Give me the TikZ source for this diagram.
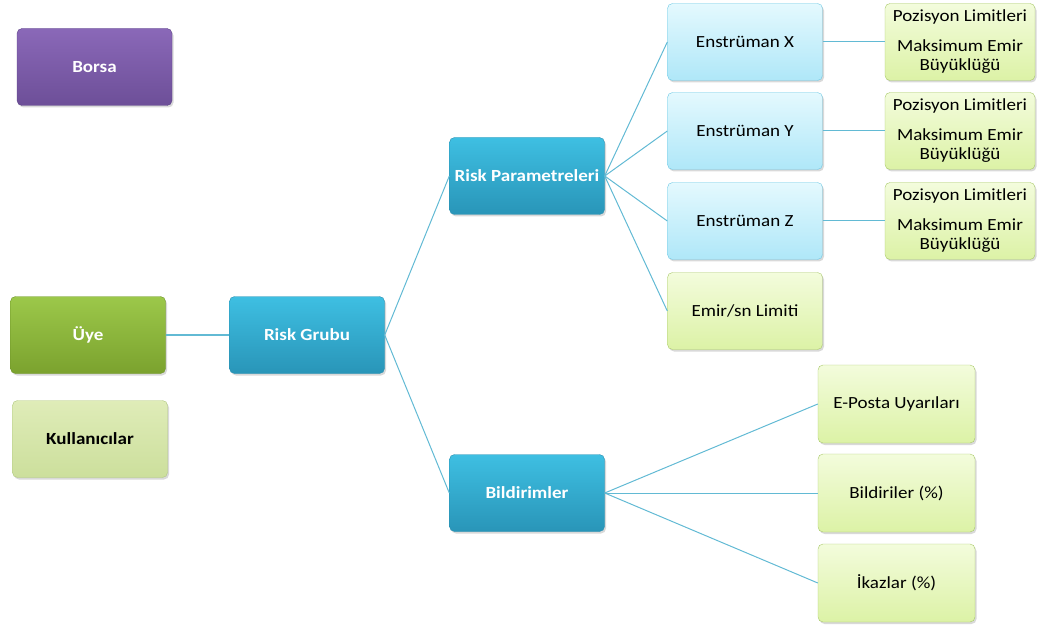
\documentclass[tikz,border=0pt]{standalone}
\usepackage{fontspec}
\setmainfont{Carlito}[FakeStretch=1.12]
\usetikzlibrary{shadows}
\definecolor{conn}{HTML}{62BAD4}
\definecolor{rtop}{HTML}{3EBFE2}
\definecolor{rbot}{HTML}{2995B8}
\definecolor{rdraw}{HTML}{2A8FB0}
\definecolor{itop}{HTML}{E4F9FE}
\definecolor{ibot}{HTML}{AFE7F8}
\definecolor{idraw}{HTML}{6CC8E4}
\definecolor{ltop}{HTML}{F3FCDC}
\definecolor{lbot}{HTML}{DCF2A6}
\definecolor{ldraw}{HTML}{A9C96A}
\definecolor{uyetop}{HTML}{9CC84A}
\definecolor{uyebot}{HTML}{7BA22E}
\definecolor{uyedraw}{HTML}{6E9428}
\definecolor{kultop}{HTML}{DFECB8}
\definecolor{kulbot}{HTML}{CCDF9C}
\definecolor{kuldraw}{HTML}{B0C880}
\definecolor{borsatop}{HTML}{8A68B8}
\definecolor{borsabot}{HTML}{6D4F98}
\definecolor{borsadraw}{HTML}{5E4488}
\tikzset{
  box/.style={rounded corners=5pt, minimum width=155pt, minimum height=77pt, align=center, inner sep=2pt,
    font=\fontsize{17}{19}\selectfont,
    drop shadow={opacity=0.3, shadow xshift=1.5pt, shadow yshift=-2pt}},
  boldbox/.style={box, font=\fontsize{17}{19}\selectfont\bfseries},
  riskbox/.style={boldbox, top color=rtop, bottom color=rbot, draw=rdraw, text=white},
  instbox/.style={box, top color=itop, bottom color=ibot, draw=idraw, text=black},
  leafbox/.style={box, top color=ltop, bottom color=lbot, draw=ldraw, text=black},
  conline/.style={draw=conn, line width=1pt},
}
\begin{document}
\begin{tikzpicture}[x=1pt,y=-1pt]
\useasboundingbox (0,0) rectangle (1038,628);
% left column
\node[boldbox, top color=borsatop, bottom color=borsabot, draw=borsadraw, text=white] (borsa) at (94.5,67) {Borsa};
\node[boldbox, top color=uyetop, bottom color=uyebot, draw=uyedraw, text=white] (uye) at (88,335) {Üye};
\node[boldbox, top color=kultop, bottom color=kulbot, draw=kuldraw, text=black] (kul) at (90,439) {Kullanıcılar};
% risk
\node[riskbox] (rg) at (307,335) {Risk Grubu};
\node[riskbox] (rp) at (527,176) {Risk Parametreleri};
\node[riskbox] (bil) at (527,493) {Bildirimler};
% instruments
\node[instbox] (ex) at (745,42) {Enstrüman X};
\node[instbox] (ey) at (745,131) {Enstrüman Y};
\node[instbox] (ez) at (745,221) {Enstrüman Z};
\node[leafbox] (emir) at (745,311) {Emir/sn Limiti};
% limits
\node[leafbox, minimum width=150pt] (px) at (960,42) {Pozisyon Limitleri\\[11pt]Maksimum Emir\\Büyüklüğü};
\node[leafbox, minimum width=150pt] (py) at (960,131) {Pozisyon Limitleri\\[11pt]Maksimum Emir\\Büyüklüğü};
\node[leafbox, minimum width=150pt] (pz) at (960,221) {Pozisyon Limitleri\\[11pt]Maksimum Emir\\Büyüklüğü};
% notifications
\node[leafbox, minimum width=157pt, minimum height=78pt] (ep) at (896.5,404) {E-Posta Uyarıları};
\node[leafbox, minimum width=157pt, minimum height=78pt] (bd) at (896.5,493) {Bildiriler (\%)};
\node[leafbox, minimum width=157pt, minimum height=78pt] (ik) at (896.5,583) {İkazlar (\%)};
% connectors
\draw[draw=conn, line width=2.5pt] (uye.east) -- (rg.west);
\draw[conline] (rg.east) -- (rp.west);
\draw[conline] (rg.east) -- (bil.west);
\draw[conline] (rp.east) -- (ex.west);
\draw[conline] (rp.east) -- (ey.west);
\draw[conline] (rp.east) -- (ez.west);
\draw[conline] (rp.east) -- (emir.west);
\draw[conline] (ex.east) -- (px.west);
\draw[conline] (ey.east) -- (py.west);
\draw[conline] (ez.east) -- (pz.west);
\draw[conline] (bil.east) -- (ep.west);
\draw[conline] (bil.east) -- (bd.west);
\draw[conline] (bil.east) -- (ik.west);
\end{tikzpicture}
\end{document}
